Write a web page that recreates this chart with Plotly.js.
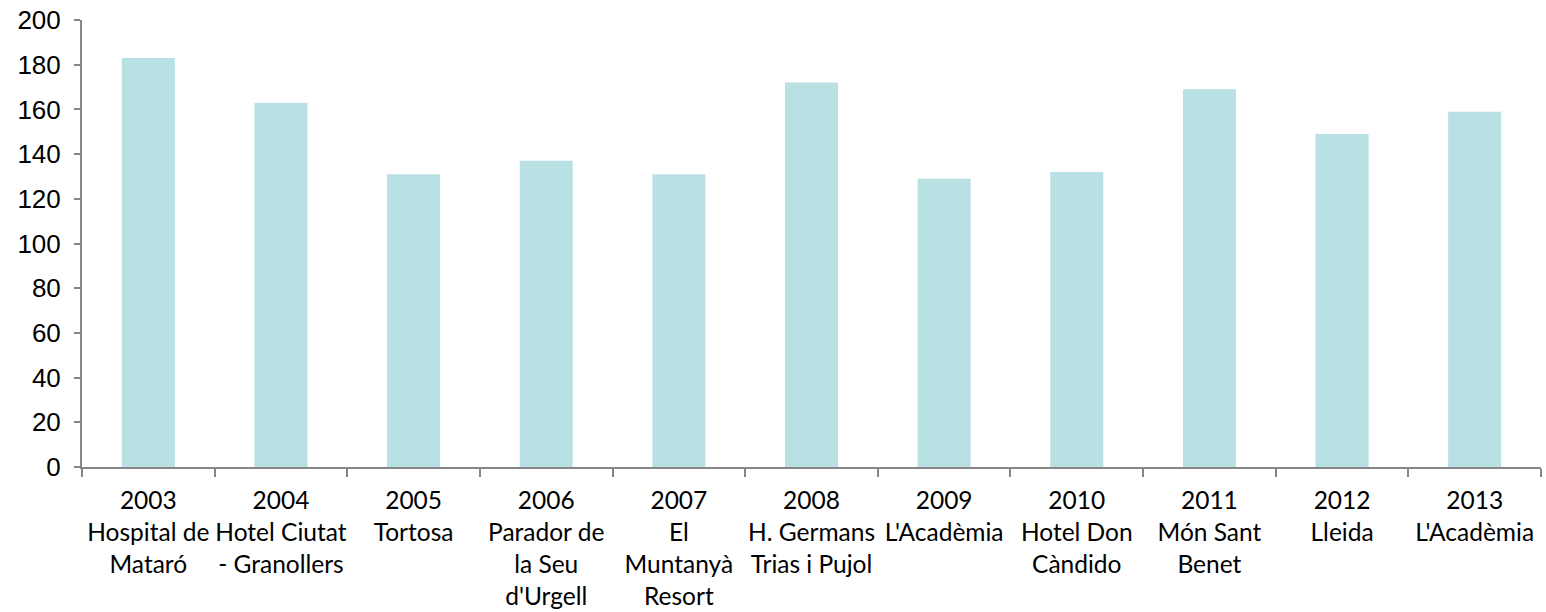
<!DOCTYPE html>
<html>
<head>
<meta charset="utf-8">
<script src="https://cdn.plot.ly/plotly-3.0.1.min.js"></script>
<style>html,body{margin:0;padding:0;background:#fff;}#chart{width:1546px;height:612px;}</style>
</head>
<body>
<div id="chart"></div>
<script>
const years = ["2003","2004","2005","2006","2007","2008","2009","2010","2011","2012","2013"];
const venues = ["Hospital de<br>Mataró","Hotel Ciutat<br>- Granollers","Tortosa","Parador de<br>la Seu<br>d'Urgell","El<br>Muntanyà<br>Resort","H. Germans<br>Trias i Pujol","L'Acadèmia","Hotel Don<br>Càndido","Món Sant<br>Benet","Lleida","L'Acadèmia"];
const values = [183,163,131,137,131,172,129,132,169,149,159];
const yTicks = [0,20,40,60,80,100,120,140,160,180,200];

const labels = years.map((y,i)=> y + "<br>" + venues[i]);

Plotly.newPlot("chart", [{
  type: "bar",
  x: labels,
  y: values,
  marker: {color: "#b9e0e3"},
  hoverinfo: "none"
}], {
  width: 1546, height: 612,
  margin: {l: 82, r: 5, t: 20, b: 145},
  paper_bgcolor: "#fff", plot_bgcolor: "#fff",
  bargap: 0.6,
  showlegend: false,
  xaxis: {
    type: "category",
    showline: true, linecolor: "#868686", linewidth: 2,
    ticks: "outside", tickson: "boundaries", ticklen: 8, tickcolor: "#868686", tickwidth: 2,
    showgrid: false, zeroline: false,
    tickfont: {family: "Lato, Open Sans, sans-serif", size: 24.5, color: "#000"},
    ticklabelstandoff: 11,
    tickangle: 0, automargin: false
  },
  yaxis: {
    range: [0, 200], tickvals: yTicks, ticktext: yTicks.map(String),
    showline: true, linecolor: "#868686", linewidth: 2,
    ticks: "outside", ticklen: 6, tickcolor: "#868686", tickwidth: 2,
    showgrid: false, zeroline: false,
    tickfont: {family: "Liberation Sans, Arial, sans-serif", size: 26, color: "#000"},
    ticklabelstandoff: 8,
    automargin: false
  }
}, {displayModeBar: false, staticPlot: true});
</script>
</body>
</html>
